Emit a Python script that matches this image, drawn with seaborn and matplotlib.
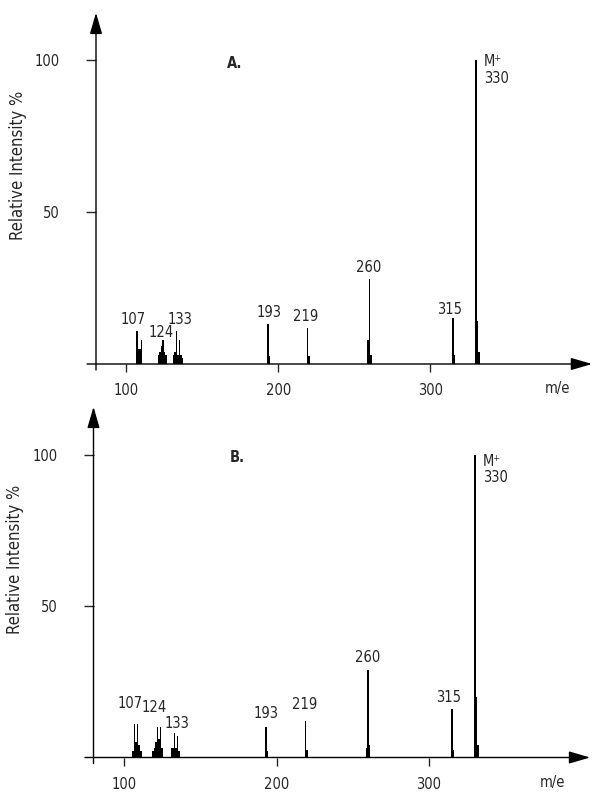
import matplotlib
matplotlib.use("Agg")
import matplotlib.pyplot as plt
from matplotlib import font_manager
import pandas as pd
import seaborn as sns

# Spectrum A: m/e and relative intensity (%)
mz_a = [107, 108, 109, 110, 121, 122, 123, 124, 125, 126,
        131, 132, 133, 134, 135, 136, 137, 193, 194, 219, 220,
        259, 260, 261, 315, 316, 330, 331, 332]
int_a = [11, 5, 5, 8, 3, 4, 6, 8, 4, 3,
         3, 4, 11, 3, 8, 3, 2, 13, 2.5, 12, 2.5,
         8, 28, 3, 15, 3, 100, 14, 4]

# Spectrum B: m/e and relative intensity (%)
mz_b = [106, 107, 108, 109, 110, 111, 119, 120, 121, 122, 123, 124, 125,
        131, 132, 133, 134, 135, 136, 193, 194, 219, 220,
        259, 260, 261, 315, 316, 330, 331, 332]
int_b = [2, 11, 5, 11, 4, 2, 2, 3, 5, 10, 6, 10, 3,
         3, 3, 8, 3, 7, 2, 10, 2, 12, 2.5,
         3, 29, 4, 16, 2.5, 100, 20, 4]

peak_labels = ["107", "124", "133", "193", "219", "260", "315"]
molecular_ion = "330"
x_ticks = [100, 200, 300]
y_ticks = [50, 100]

sns.set_style("ticks")


def pick_font():
    for f in font_manager.fontManager.ttflist:
        if f.fname.lower().endswith("dejavusanscondensed.ttf"):
            return f.name, f.stretch
    return "DejaVu Sans", "normal"


fam, stretch = pick_font()
plt.rcParams["font.family"] = [fam, "DejaVu Sans"]
plt.rcParams["font.stretch"] = stretch

W, H = 593, 792
fig = plt.figure(figsize=(W / 100, H / 100), dpi=100)
fig.patch.set_facecolor("white")

# axes rectangles in pixels: left edge, x-axis row, px per m/e, px per %
panels = [
    dict(name="A.", mz=mz_a, inten=int_a, left=96, base=364, sx=1.52, sy=3.04,
         offs={"107": (-2.7, 3.8), "124": (-1.2, 2.5), "133": (2.3, 3.8),
               "193": (0.8, 4.1), "219": (-0.8, 3.5), "260": (-0.4, 3.6),
               "315": (-2.1, 2.8)},
         title_xy=(171.5, 99), mplus=(99.4, 94.0), ylab_y=0.655,
         xstart=74.1, xend=406.3, ytop=115.5, me_xy=(383.3, -8.2)),
    dict(name="B.", mz=mz_b, inten=int_b, left=93.5, base=757.5, sx=1.525, sy=3.025,
         offs={"107": (-2.7, 7.0), "124": (-4.3, 6.4), "133": (1.8, 3.4),
               "193": (0.0, 4.7), "219": (-0.6, 5.4), "260": (0.0, 4.2),
               "315": (-2.0, 4.0)},
         title_xy=(174, 99.3), mplus=(98.0, 92.4), ylab_y=0.655,
         xstart=74.4, xend=405.6, ytop=115.9, me_xy=(381.3, -8.4)),
]

FS = 10.5
for p in panels:
    ax = fig.add_axes([p["left"] / W, (H - p["base"]) / H,
                       320 * p["sx"] / W, 100 * p["sy"] / H])
    df = pd.DataFrame({"mz": p["mz"], "intensity": p["inten"]})
    sns.barplot(data=df, x="mz", y="intensity", native_scale=True, width=1.0,
                color="black", saturation=1, errorbar=None, linewidth=0, ax=ax)
    ax.set_xlim(80, 400)
    ax.set_ylim(0, 100)
    for s in ax.spines.values():
        s.set_visible(False)
    ax.set_facecolor("none")

    # axes drawn as arrows
    arrow = dict(arrowstyle="-|>,head_length=1.3,head_width=0.38", lw=1.0,
                 color="black", shrinkA=0, shrinkB=0, mutation_scale=10)
    ax.annotate("", xy=(80, p["ytop"]), xytext=(80, -2), xycoords="data",
                arrowprops=arrow, annotation_clip=False)
    ax.annotate("", xy=(p["xend"], 0), xytext=(p["xstart"], 0), xycoords="data",
                arrowprops=arrow, annotation_clip=False)

    ax.set_xticks(x_ticks)
    ax.set_yticks(y_ticks)
    ax.tick_params(axis="x", direction="out", length=6, width=1.0, pad=8,
                   labelsize=FS, bottom=True)
    ax.tick_params(axis="y", direction="out", length=7, width=1.0, pad=19,
                   labelsize=FS, left=True)
    ax.set_xlabel("")
    ax.set_ylabel("Relative Intensity %", fontsize=12)
    ax.yaxis.set_label_coords(-0.142, p["ylab_y"])

    heights = dict(zip(p["mz"], p["inten"]))
    for lab in peak_labels:
        m = int(lab)
        dx, dy = p["offs"][lab]
        ax.text(m + dx, heights[m] + dy, lab, ha="center", va="center",
                fontsize=FS, clip_on=False)

    ax.text(335.3, p["mplus"][0], "M\u207a", ha="left", va="center",
            fontsize=FS, clip_on=False)
    ax.text(335.3, p["mplus"][1], molecular_ion, ha="left", va="center",
            fontsize=FS, clip_on=False)
    ax.text(*p["title_xy"], p["name"], ha="center", va="center",
            fontsize=FS, fontweight="bold", clip_on=False)
    ax.text(*p["me_xy"], "m/e", ha="center", va="center", fontsize=FS,
            clip_on=False)

fig.savefig("out.png", dpi=100, facecolor="white")
